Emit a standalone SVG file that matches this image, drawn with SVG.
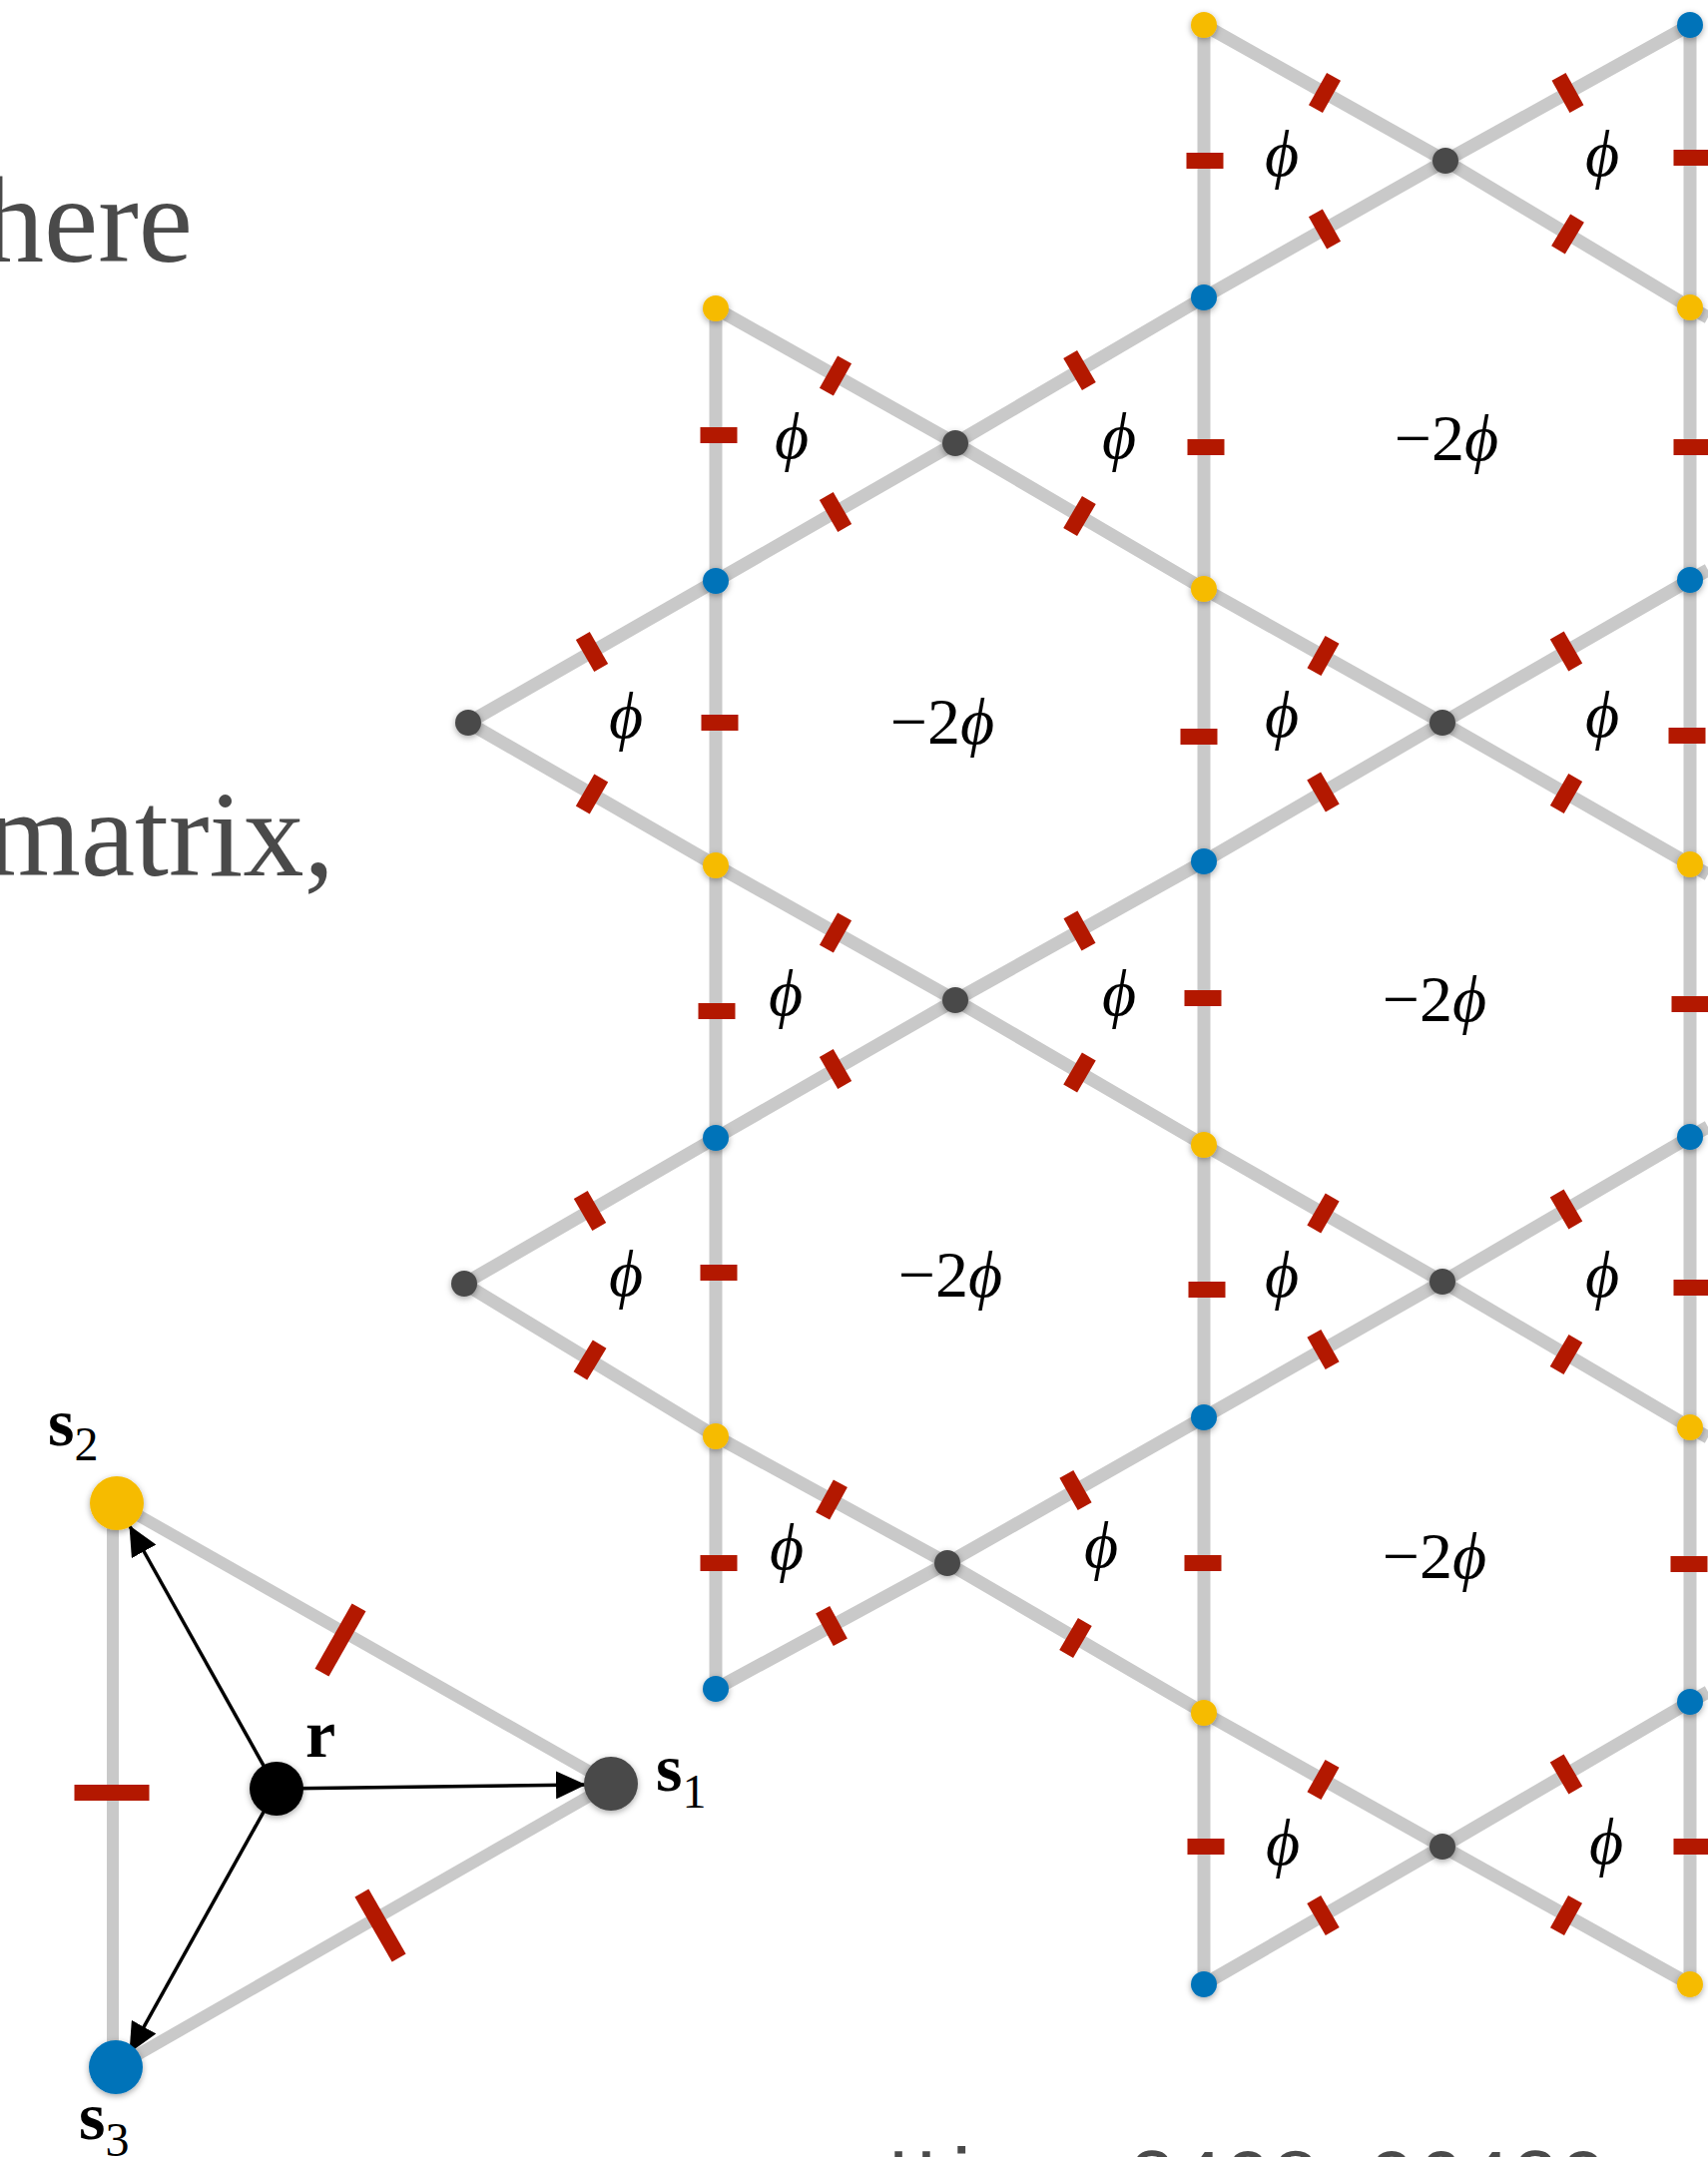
<svg xmlns="http://www.w3.org/2000/svg" width="1711" height="2161" viewBox="0 0 1711 2161">
<style>
.ln{fill:none;stroke:#c9c9c9;stroke-width:13;stroke-linejoin:round}
.lns{fill:none;stroke:#c9c9c9;stroke-width:12}
.tk{fill:#b31800}
.y{fill:#f6bb00}
.b{fill:#0073b9}
.g{fill:#4a4a4a}
.k{fill:#000}
.dots{filter:url(#sh)}
.phi{font-family:"Liberation Serif","DejaVu Serif",serif;font-style:italic;font-size:66px;fill:#000;text-anchor:middle}
.up{font-style:normal}
.big{font-family:"Liberation Serif","Times New Roman",serif;font-size:122px;fill:#4a4a4a}
.lab{font-family:"Liberation Serif","Times New Roman",serif;font-weight:bold;font-size:68px;fill:#000}
.sub{font-weight:normal;font-size:48px}
.arr{stroke:#000;stroke-width:3.5;fill:none;marker-end:url(#ah)}
.ref{font-family:"Liberation Mono","Courier New",monospace;font-size:80px;fill:#4a4a4a}
</style>
<defs>
<filter id="sh" x="-50%" y="-50%" width="200%" height="200%">
<feDropShadow dx="0" dy="2" stdDeviation="3" flood-color="#000" flood-opacity="0.35"/>
</filter>
<rect id="tk" class="tk" x="-8" y="-18.5" width="16" height="37"/>
<rect id="tkL" class="tk" x="-8" y="-37.5" width="16" height="75"/>
<marker id="ah" markerUnits="userSpaceOnUse" markerWidth="30" markerHeight="28" refX="29" refY="14" orient="auto">
<path d="M0,0 L30,14 L0,28 z" fill="#000"/>
</marker>
</defs>
<rect width="1711" height="2161" fill="#fff"/>

<text class="big" x="193" y="262" text-anchor="end">here</text>
<text class="big" x="335" y="877" text-anchor="end">matrix,</text>
<text class="ref" x="890" y="2208">Hira 2408.06420</text>

<g id="connectors">
<polyline class="ln" points="717,309 717,1692"/>
<polyline class="ln" points="1206,25 1206,1988"/>
<polyline class="ln" points="1693,25 1693,1988"/>
<polyline class="ln" points="469,724 717,582 957,444 1206,298 1448,161 1693,25"/>
<polyline class="ln" points="465,1286 717,1140 957,1002 1206,863 1445,724 1693,581 1711,571"/>
<polyline class="ln" points="717,1692 949,1566 1206,1420 1445,1284 1693,1139 1711,1129"/>
<polyline class="ln" points="1206,1988 1445,1850 1693,1705 1711,1695"/>
<polyline class="ln" points="1206,25 1448,161 1693,308 1711,318"/>
<polyline class="ln" points="717,309 957,444 1206,590 1445,724 1693,866 1711,876"/>
<polyline class="ln" points="469,724 717,867 957,1002 1206,1147 1445,1284 1693,1430 1711,1440"/>
<polyline class="ln" points="465,1286 717,1439 949,1566 1206,1716 1445,1850 1693,1988"/>
<line class="lns" x1="113" y1="1506" x2="113" y2="2071"/>
<line class="lns" x1="117" y1="1506" x2="612" y2="1787"/>
<line class="lns" x1="612" y1="1787" x2="116" y2="2071"/>
<line class="arr" x1="277" y1="1792" x2="586" y2="1788"/>
<line class="arr" x1="277" y1="1792" x2="130" y2="1529"/>
<line class="arr" x1="277" y1="1792" x2="130" y2="2056"/>
</g>

<g id="ticks">
<use href="#tk" transform="translate(720,436) rotate(90)"/>
<use href="#tk" transform="translate(721,724) rotate(90)"/>
<use href="#tk" transform="translate(718,1013) rotate(90)"/>
<use href="#tk" transform="translate(720,1275) rotate(90)"/>
<use href="#tk" transform="translate(720,1566) rotate(90)"/>
<use href="#tk" transform="translate(1207,161) rotate(90)"/>
<use href="#tk" transform="translate(1208,448) rotate(90)"/>
<use href="#tk" transform="translate(1201,738) rotate(90)"/>
<use href="#tk" transform="translate(1205,1000) rotate(90)"/>
<use href="#tk" transform="translate(1209,1292) rotate(90)"/>
<use href="#tk" transform="translate(1205,1566) rotate(90)"/>
<use href="#tk" transform="translate(1208,1850) rotate(90)"/>
<use href="#tk" transform="translate(1695,158) rotate(90)"/>
<use href="#tk" transform="translate(1695,448) rotate(90)"/>
<use href="#tk" transform="translate(1690,737) rotate(90)"/>
<use href="#tk" transform="translate(1693,1006) rotate(90)"/>
<use href="#tk" transform="translate(1695,1290) rotate(90)"/>
<use href="#tk" transform="translate(1692,1567) rotate(90)"/>
<use href="#tk" transform="translate(1695,1850) rotate(90)"/>

<use href="#tk" transform="translate(593,653) rotate(-29.8)"/>
<use href="#tk" transform="translate(837,513) rotate(-29.9)"/>
<use href="#tk" transform="translate(1081.5,371) rotate(-30.4)"/>
<use href="#tk" transform="translate(1327,229.5) rotate(-29.5)"/>
<use href="#tk" transform="translate(1570.5,93) rotate(-29)"/>
<use href="#tk" transform="translate(591,1213) rotate(-30.1)"/>
<use href="#tk" transform="translate(837,1071) rotate(-29.9)"/>
<use href="#tk" transform="translate(1081.5,932.5) rotate(-29.2)"/>
<use href="#tk" transform="translate(1325.5,793.5) rotate(-30.2)"/>
<use href="#tk" transform="translate(1569,652.5) rotate(-30)"/>
<use href="#tk" transform="translate(833,1629) rotate(-28.5)"/>
<use href="#tk" transform="translate(1077.5,1493) rotate(-29.6)"/>
<use href="#tk" transform="translate(1325.5,1352) rotate(-29.6)"/>
<use href="#tk" transform="translate(1569,1211.5) rotate(-30.3)"/>
<use href="#tk" transform="translate(1325.5,1919) rotate(-30)"/>
<use href="#tk" transform="translate(1569,1777.5) rotate(-30.3)"/>

<use href="#tk" transform="translate(1327,93) rotate(29.3)"/>
<use href="#tk" transform="translate(1570.5,234.5) rotate(31)"/>
<use href="#tk" transform="translate(837,376.5) rotate(29.4)"/>
<use href="#tk" transform="translate(1081.5,517) rotate(30.4)"/>
<use href="#tk" transform="translate(1325.5,657) rotate(29.3)"/>
<use href="#tk" transform="translate(1569,795) rotate(29.8)"/>
<use href="#tk" transform="translate(593,795.5) rotate(30)"/>
<use href="#tk" transform="translate(837,934.5) rotate(29.4)"/>
<use href="#tk" transform="translate(1081.5,1074.5) rotate(30.2)"/>
<use href="#tk" transform="translate(1325.5,1215.5) rotate(29.8)"/>
<use href="#tk" transform="translate(1569,1357) rotate(30.5)"/>
<use href="#tk" transform="translate(591,1362.5) rotate(31.3)"/>
<use href="#tk" transform="translate(833,1502.5) rotate(28.7)"/>
<use href="#tk" transform="translate(1077.5,1641) rotate(30.3)"/>
<use href="#tk" transform="translate(1325.5,1783) rotate(29.3)"/>
<use href="#tk" transform="translate(1569,1919) rotate(29.1)"/>

<use href="#tkL" transform="translate(112,1796) rotate(90)"/>
<use href="#tkL" transform="translate(341,1643) rotate(29.6)"/>
<use href="#tkL" transform="translate(381,1929) rotate(-29.8)"/>
</g>

<g class="dots">
<g id="n-Y1a"><circle class="y" cx="717" cy="309" r="13"/></g>
<g id="n-B1a"><circle class="b" cx="717" cy="582" r="13"/></g>
<g id="n-Y1b"><circle class="y" cx="717" cy="867" r="13"/></g>
<g id="n-B1b"><circle class="b" cx="717" cy="1140" r="13"/></g>
<g id="n-Y1c"><circle class="y" cx="717" cy="1439" r="13"/></g>
<g id="n-B1c"><circle class="b" cx="717" cy="1692" r="13"/></g>
<g id="n-Y2a"><circle class="y" cx="1206" cy="25" r="13"/></g>
<g id="n-B2a"><circle class="b" cx="1206" cy="298" r="13"/></g>
<g id="n-Y2b"><circle class="y" cx="1206" cy="590" r="13"/></g>
<g id="n-B2b"><circle class="b" cx="1206" cy="863" r="13"/></g>
<g id="n-Y2c"><circle class="y" cx="1206" cy="1147" r="13"/></g>
<g id="n-B2c"><circle class="b" cx="1206" cy="1420" r="13"/></g>
<g id="n-Y2d"><circle class="y" cx="1206" cy="1716" r="13"/></g>
<g id="n-B2d"><circle class="b" cx="1206" cy="1988" r="13"/></g>
<g id="n-B3a"><circle class="b" cx="1693" cy="25" r="13"/></g>
<g id="n-Y3a"><circle class="y" cx="1693" cy="308" r="13"/></g>
<g id="n-B3b"><circle class="b" cx="1693" cy="581" r="13"/></g>
<g id="n-Y3b"><circle class="y" cx="1693" cy="866" r="13"/></g>
<g id="n-B3c"><circle class="b" cx="1693" cy="1139" r="13"/></g>
<g id="n-Y3c"><circle class="y" cx="1693" cy="1430" r="13"/></g>
<g id="n-B3d"><circle class="b" cx="1693" cy="1705" r="13"/></g>
<g id="n-Y3d"><circle class="y" cx="1693" cy="1988" r="13"/></g>
<g id="n-G1"><circle class="g" cx="1448" cy="161" r="13"/></g>
<g id="n-G2"><circle class="g" cx="957" cy="444" r="13"/></g>
<g id="n-G3"><circle class="g" cx="1445" cy="724" r="13"/></g>
<g id="n-G4"><circle class="g" cx="957" cy="1002" r="13"/></g>
<g id="n-G5"><circle class="g" cx="1445" cy="1284" r="13"/></g>
<g id="n-G6"><circle class="g" cx="949" cy="1566" r="13"/></g>
<g id="n-G7"><circle class="g" cx="1445" cy="1850" r="13"/></g>
<g id="n-T1"><circle class="g" cx="469" cy="724" r="13"/></g>
<g id="n-T2"><circle class="g" cx="465" cy="1286" r="13"/></g>
<g id="n-s2"><circle class="y" cx="117" cy="1506" r="27"/></g>
<g id="n-s1"><circle class="g" cx="612" cy="1787" r="27"/></g>
<g id="n-s3"><circle class="b" cx="116" cy="2071" r="27"/></g>
<g id="n-r"><circle class="k" cx="277" cy="1792" r="27"/></g>
</g>

<g id="labels">
<text class="phi" x="1284" y="176">ϕ</text>
<text class="phi" x="1605" y="176">ϕ</text>
<text class="phi" x="793" y="459">ϕ</text>
<text class="phi" x="1121" y="459">ϕ</text>
<text class="phi" x="1449" y="461"><tspan class="up">−2</tspan>ϕ</text>
<text class="phi" x="627" y="739">ϕ</text>
<text class="phi" x="944" y="745"><tspan class="up">−2</tspan>ϕ</text>
<text class="phi" x="1284" y="738">ϕ</text>
<text class="phi" x="1605" y="738">ϕ</text>
<text class="phi" x="787" y="1017">ϕ</text>
<text class="phi" x="1121" y="1017">ϕ</text>
<text class="phi" x="1437" y="1023"><tspan class="up">−2</tspan>ϕ</text>
<text class="phi" x="627" y="1298">ϕ</text>
<text class="phi" x="952" y="1299"><tspan class="up">−2</tspan>ϕ</text>
<text class="phi" x="1284" y="1299">ϕ</text>
<text class="phi" x="1605" y="1299">ϕ</text>
<text class="phi" x="788" y="1572">ϕ</text>
<text class="phi" x="1103" y="1570">ϕ</text>
<text class="phi" x="1437" y="1581"><tspan class="up">−2</tspan>ϕ</text>
<text class="phi" x="1285" y="1868">ϕ</text>
<text class="phi" x="1609" y="1867">ϕ</text>
<text class="lab" x="48" y="1448">s<tspan class="sub" dy="15">2</tspan></text>
<text class="lab" x="657" y="1794">s<tspan class="sub" dy="17">1</tspan></text>
<text class="lab" x="79" y="2143">s<tspan class="sub" dy="17">3</tspan></text>
<text class="lab" x="306" y="1760">r</text>
</g>
</svg>
